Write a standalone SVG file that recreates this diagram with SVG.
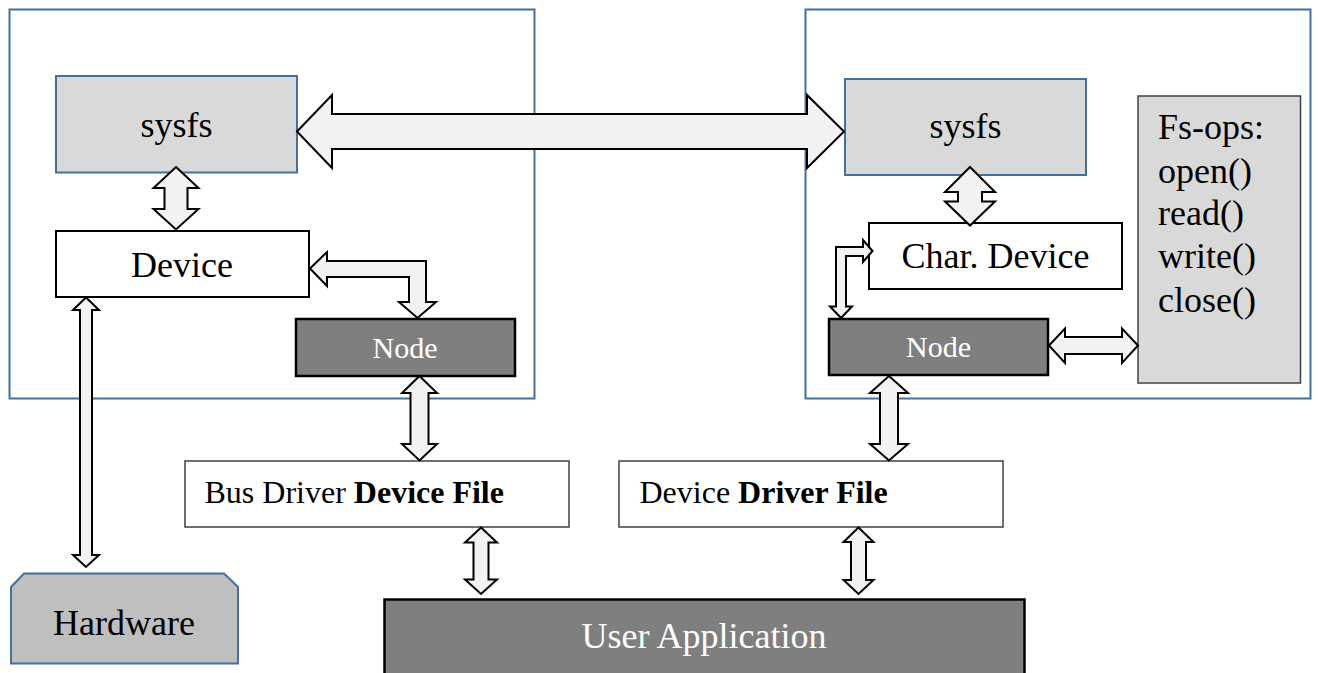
<svg xmlns="http://www.w3.org/2000/svg" width="1318" height="673" viewBox="0 0 1318 673">
<style>
  .txt { font-family: "Liberation Serif", "Times New Roman", serif; font-size: 36px; fill: #000; }
  .mid { text-anchor: middle; }
  .white { fill: #ffffff; }
  .container { fill: none; stroke: #41719c; stroke-width: 2; }
  .sysfs { fill: #d9d9d9; stroke: #41719c; stroke-width: 2; }
  .plain { fill: #ffffff; stroke: #000; stroke-width: 2; }
  .file { fill: #ffffff; stroke: #404040; stroke-width: 1.5; }
  .dark { fill: #7f7f7f; stroke: #000; stroke-width: 2.5; }
  .ops { fill: #d9d9d9; stroke: #404040; stroke-width: 1.5; }
  .hw { fill: #bfbfbf; stroke: #41719c; stroke-width: 2; }
  .arrow { fill: #f2f2f2; stroke: #000; stroke-width: 2; stroke-linejoin: miter; }
</style>
<rect width="1318" height="673" fill="#ffffff"/>

<g id="containers">
  <rect id="left-container" class="container" x="9.5" y="9.5" width="525" height="389"/>
  <rect id="right-container" class="container" x="805.5" y="9.5" width="505" height="389"/>
</g>

<g id="node-sysfs-left">
  <rect class="sysfs" x="56" y="76" width="241" height="96.5"/>
  <text class="txt mid" x="176.5" y="137">sysfs</text>
</g>
<g id="node-device">
  <rect class="plain" x="56" y="231" width="253" height="66"/>
  <text class="txt mid" x="182" y="277">Device</text>
</g>
<g id="node-node-left">
  <rect class="dark" x="296" y="319" width="219" height="57"/>
  <text class="txt mid white" x="405" y="358" style="font-size:30px">Node</text>
</g>
<g id="node-sysfs-right">
  <rect class="sysfs" x="845" y="79" width="241" height="96"/>
  <text class="txt mid" x="965.5" y="138">sysfs</text>
</g>
<g id="node-char-device">
  <rect class="plain" x="869" y="223" width="253" height="66"/>
  <text class="txt mid" x="995.5" y="268">Char. Device</text>
</g>
<g id="node-node-right">
  <rect class="dark" x="829" y="319" width="219" height="56"/>
  <text class="txt mid white" x="938.5" y="357" style="font-size:30px">Node</text>
</g>
<g id="node-fs-ops">
  <rect class="ops" x="1138" y="96" width="162.5" height="287"/>
  <text class="txt" x="1158" y="139">Fs-ops:</text>
  <text class="txt" x="1158" y="182.5">open()</text>
  <text class="txt" x="1158" y="225">read()</text>
  <text class="txt" x="1158" y="268">write()</text>
  <text class="txt" x="1158" y="311.5">close()</text>
</g>
<g id="node-bus-driver">
  <rect class="file" x="185" y="461" width="384" height="66"/>
  <text class="txt" x="204.5" y="503" style="font-size:32px">Bus Driver <tspan font-weight="bold">Device File</tspan></text>
</g>
<g id="node-device-driver">
  <rect class="file" x="619" y="461" width="384" height="66"/>
  <text class="txt" x="639.5" y="503" style="font-size:32px">Device <tspan font-weight="bold">Driver File</tspan></text>
</g>
<g id="node-hardware">
  <polygon class="hw" points="11,587 24,573.5 224,573.5 238,587 238,663.5 11,663.5"/>
  <text class="txt mid" x="124" y="635">Hardware</text>
</g>
<g id="node-user-app">
  <rect class="dark" x="384.5" y="599.5" width="640" height="90"/>
  <text class="txt mid white" x="704" y="648">User Application</text>
</g>

<g id="connectors">
  <!-- sysfs <-> sysfs wide arrow -->
  <polygon class="arrow" points="297,131.5 332,95 332,114 807,114 807,95 844,131.5 807,168 807,149 332,149 332,168"/>
  <!-- sysfs <-> Device -->
  <polygon class="arrow" points="176,167 198.5,188 187.5,188 187.5,209 198.5,209 176,229.5 153.5,209 164.5,209 164.5,188 153.5,188"/>
  <!-- Device <-> Node (bent) -->
  <polygon class="arrow" points="310,268.5 327,252 327,261 426,261 426,302 436,302 417.5,318 399,302 409,302 409,277 327,277 327,286"/>
  <!-- Device <-> Hardware -->
  <polygon class="arrow" points="86,297.5 99,310 92,310 92,555 99,555 86,567 73,555 80,555 80,310 73,310"/>
  <!-- Node left <-> Bus Driver -->
  <polygon class="arrow" points="419.5,376 437,393 428.5,393 428.5,444 437,444 419.5,460.5 402,444 410.5,444 410.5,393 402,393"/>
  <!-- Bus Driver <-> User App -->
  <polygon class="arrow" points="481,527.5 497,542.5 488.5,542.5 488.5,579.5 497,579.5 481,594 465,579.5 473.5,579.5 473.5,542.5 465,542.5"/>
  <!-- sysfs right <-> Char Device -->
  <polygon class="arrow" points="970,167 995,192 982,192 982,201.5 995,201.5 970,225.5 945,201.5 958,201.5 958,192 945,192"/>
  <!-- Char Device <-> Node right (bent) -->
  <polygon class="arrow" points="872.5,251 863,240 863,247 836,247 836,306.5 830,306.5 841,318 852,306.5 846,306.5 846,256 863,256 863,262"/>
  <!-- Node right <-> Fs-ops -->
  <polygon class="arrow" points="1049,345.5 1065,328.5 1065,337 1122,337 1122,328.5 1138,345.5 1122,363 1122,354 1065,354 1065,363"/>
  <!-- Node right <-> Device Driver -->
  <polygon class="arrow" points="889,376 908,393 898,393 898,444 908,444 889,460.5 870,444 880,444 880,393 870,393"/>
  <!-- Device Driver <-> User App -->
  <polygon class="arrow" points="858.5,527.5 873.5,542 866,542 866,580 873.5,580 858.5,594 843.5,580 851,580 851,542 843.5,542"/>
</g>
</svg>
